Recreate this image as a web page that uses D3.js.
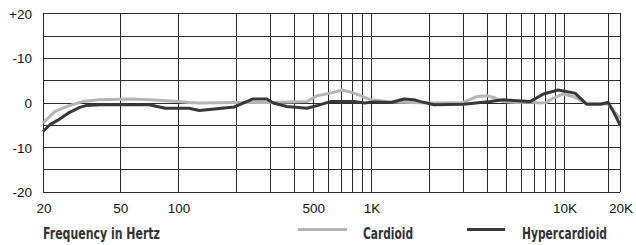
<!DOCTYPE html>
<html>
<head>
<meta charset="utf-8">
<script src="https://cdn.jsdelivr.net/npm/d3@7"></script>
<style>
  body { margin: 0; background: #fff; }
  .tick-label { font-family: "Liberation Sans", Arial, sans-serif; font-size: 13.5px; fill: #111; }
  .title { font-family: "DejaVu Sans", sans-serif; font-stretch: condensed; font-weight: bold; font-size: 16px; fill: #333; }
</style>
</head>
<body>
<div id="chart"></div>
<script>
// frequency response, dB vs Hz
const cardioidFreq = [20, 21.7, 23.1, 26.5, 32, 39, 58, 71, 100, 114, 130, 200, 300, 466, 526, 617, 710, 818, 1000, 1270, 1600, 2100, 3000, 3550, 4000, 4400, 4860, 5700, 6700, 7500, 8100, 8800, 9900, 11200, 13000, 15600, 17300, 18400, 20000];
const cardioidDb   = [-4.6, -3.1, -2.0, -0.9, 0.2, 0.6, 0.8, 0.6, 0.2, 0, -0.1, 0, 0, 0.2, 1.5, 2.1, 2.8, 2.1, 0.6, 0.1, 0, -0.1, 0, 1.35, 1.5, 1.0, 0.2, 0, 0.1, -0.1, 0, 1.0, 1.9, 1.35, -0.1, -0.3, -0.4, -1.8, -3.5];

const hyperFreq = [20, 21.7, 24, 27, 31, 33.4, 40, 71, 86, 114, 129, 196, 245, 288, 312, 366, 466, 526, 617, 818, 922, 1040, 1270, 1485, 1670, 1810, 2120, 3020, 4150, 4860, 5480, 6680, 7820, 9330, 11460, 13240, 15600, 17300, 18400, 20000];
const hyperDb   = [-6.5, -5.0, -3.9, -2.4, -1.1, -0.7, -0.5, -0.5, -1.3, -1.3, -1.8, -1.0, 0.8, 0.8, -0.1, -0.9, -1.3, -0.7, 0.2, 0.2, -0.1, 0.1, 0, 0.8, 0.6, 0.2, -0.5, -0.4, 0.2, 0.6, 0.45, 0.2, 1.9, 2.8, 2.1, -0.4, -0.4, 0, -2.0, -5.0];

const gridFreqs = [20, 50, 100, 200, 300, 400, 500, 600, 700, 800, 900, 1000, 2000, 3000, 4000, 5000, 6000, 7000, 8000, 9000, 10000, 17300, 20000];
const xTickValues = [20, 50, 100, 500, 1000, 10000, 20000];
const xTickLabels = ["20", "50", "100", "500", "1K", "10K", "20K"];

const gridDb = [20, 15, 10, 5, 0, -5, -10, -15, -20];
const yTickValues = [20, 10, 0, -10, -20];
const yTickLabels = ["+20", "-10", "0", "-10", "-20"];

const seriesNames = ["Cardioid", "Hypercardioid"];
const seriesColors = ["#b5b5b5", "#383838"];

const width = 636, height = 245;

const svg = d3.select("#chart").append("svg")
  .attr("width", width)
  .attr("height", height);

// log axis, last octave is a bit squeezed in the original
const x = d3.scaleLog()
  .domain([20, 10000, 20000])
  .range([43, 564, 620]);

const y = d3.scaleLinear()
  .domain([-20, 20])
  .range([191.7, 13.3]);

const grid = svg.append("g")
  .attr("stroke", "#2a2a2a")
  .attr("stroke-width", 1)
  .attr("shape-rendering", "crispEdges");

grid.selectAll(".h")
  .data(gridDb)
  .join("line")
    .attr("class", "h")
    .attr("x1", x(20))
    .attr("x2", x(20000))
    .attr("y1", d => Math.round(y(d)) + 0.5)
    .attr("y2", d => Math.round(y(d)) + 0.5);

grid.selectAll(".v")
  .data(gridFreqs)
  .join("line")
    .attr("class", "v")
    .attr("x1", d => Math.round(x(d)) + 0.5)
    .attr("x2", d => Math.round(x(d)) + 0.5)
    .attr("y1", y(20))
    .attr("y2", y(-20));

svg.append("g")
  .selectAll("text")
  .data(yTickValues)
  .join("text")
    .attr("class", "tick-label")
    .attr("x", 32)
    .attr("y", d => y(d) + 1)
    .attr("text-anchor", "end")
    .attr("dominant-baseline", "central")
    .text((d, i) => yTickLabels[i]);

svg.append("g")
  .selectAll("text")
  .data(xTickValues)
  .join("text")
    .attr("class", "tick-label")
    .attr("x", d => x(d) + 1)
    .attr("y", 213)
    .attr("text-anchor", "middle")
    .text((d, i) => xTickLabels[i]);

const line = d3.line()
  .x(d => x(d[0]))
  .y(d => y(d[1]));

const series = [
  d3.zip(cardioidFreq, cardioidDb),
  d3.zip(hyperFreq, hyperDb)
];

svg.append("g")
  .selectAll("path")
  .data(series)
  .join("path")
    .attr("fill", "none")
    .attr("stroke", (d, i) => seriesColors[i])
    .attr("stroke-width", 3)
    .attr("stroke-linejoin", "round")
    .attr("d", line);

// condensed bold labels, squeezed to the original widths
svg.append("text")
  .attr("class", "title")
  .attr("x", 43)
  .attr("y", 239)
  .attr("textLength", 117)
  .attr("lengthAdjust", "spacingAndGlyphs")
  .text("Frequency in Hertz");

// legend
const legendX = [298, 467];
const legendTextLen = [50, 85];
const legend = svg.append("g")
  .selectAll("g")
  .data(seriesNames)
  .join("g")
    .attr("transform", (d, i) => `translate(${legendX[i]},0)`);

legend.append("line")
  .attr("x1", 0)
  .attr("x2", (d, i) => i === 0 ? 49 : 38)
  .attr("y1", 229.5)
  .attr("y2", 229.5)
  .attr("stroke", (d, i) => seriesColors[i])
  .attr("stroke-width", 3);

legend.append("text")
  .attr("class", "title")
  .attr("x", (d, i) => i === 0 ? 65 : 55)
  .attr("y", 239)
  .attr("textLength", (d, i) => legendTextLen[i])
  .attr("lengthAdjust", "spacingAndGlyphs")
  .text(d => d);
</script>
</body>
</html>
